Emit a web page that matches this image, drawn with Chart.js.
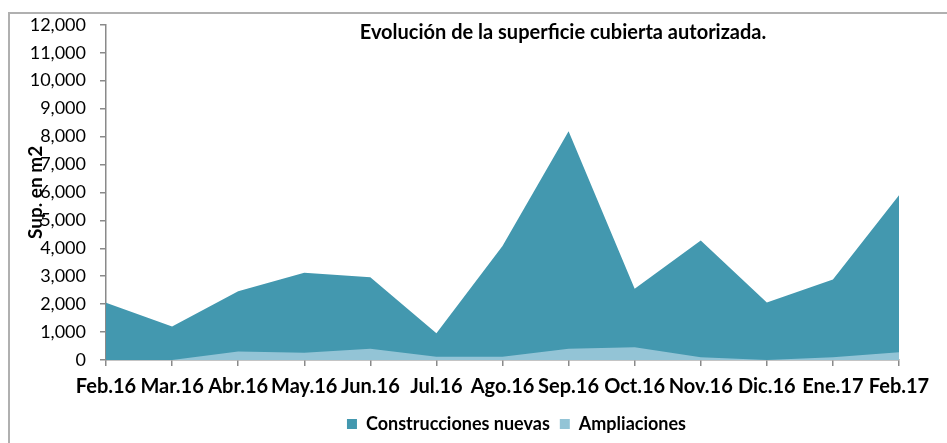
<!DOCTYPE html>
<html lang="es">
<head>
    <meta charset="UTF-8">
    <title>Evolución de la superficie cubierta autorizada</title>
    <script src="https://cdn.jsdelivr.net/npm/chart.js@4.4.8/dist/chart.umd.min.js"></script>
    <style>
        html, body { margin: 0; padding: 0; background: #fff; }
        .wrap { position: relative; width: 947px; height: 443px; }
        .frame {
            position: absolute; left: 8px; top: 12px; right: -4px; bottom: -4px;
            border-left: 2px solid #b0b0b0; border-top: 2px solid #b0b0b0;
        }
        canvas { position: absolute; left: 0; top: 0; }
    </style>
</head>
<body>
    <div class="wrap">
        <div class="frame"></div>
        <canvas id="mainChart" width="947" height="443"></canvas>
    </div>

    <script>
        // datos
        const meses = ['Feb.16', 'Mar.16', 'Abr.16', 'May.16', 'Jun.16', 'Jul.16', 'Ago.16',
                       'Sep.16', 'Oct.16', 'Nov.16', 'Dic.16', 'Ene.17', 'Feb.17'];
        const construccionesNuevas = [2050, 1200, 2460, 3120, 2960, 960, 4080, 8190, 2550, 4280, 2060, 2880, 5900];
        const ampliaciones = [0, 0, 300, 260, 400, 120, 120, 400, 460, 100, 0, 100, 280];
        const tituloGrafico = 'Evolución de la superficie cubierta autorizada.';
        const tituloEjeY = 'Sup. en m2';

        const fuente = "Lato, 'Liberation Sans', sans-serif";

        // titulo dibujado dentro del area (como en el original)
        const tituloPlugin = {
            id: 'tituloPlugin',
            afterLayout(chart) {
                // desplazar la leyenda a la derecha
                chart.legend.left += 55;
                chart.legend.right += 55;
            },
            afterDraw(chart) {
                const c = chart.ctx;
                c.save();
                c.font = 'bold 20px ' + fuente;
                c.fillStyle = '#000';
                c.textAlign = 'center';
                c.textBaseline = 'middle';
                c.fillText(tituloGrafico, 563, 33);
                c.restore();
            }
        };

        const ctx = document.getElementById('mainChart').getContext('2d');
        const mainChart = new Chart(ctx, {
            type: 'line',
            data: {
                labels: meses,
                datasets: [
                    {
                        label: 'Construcciones nuevas',
                        data: construccionesNuevas,
                        backgroundColor: '#4398AF',
                        borderColor: '#4398AF',
                        borderWidth: 0,
                        pointRadius: 0,
                        fill: 'origin',
                        order: 1
                    },
                    {
                        label: 'Ampliaciones',
                        data: ampliaciones,
                        backgroundColor: '#93C4D6',
                        borderColor: '#93C4D6',
                        borderWidth: 0,
                        pointRadius: 0,
                        fill: 'origin',
                        order: 0
                    }
                ]
            },
            options: {
                responsive: false,
                animation: false,
                layout: { padding: { left: 24, right: 48, top: 22, bottom: 0 } },
                scales: {
                    x: {
                        afterFit(scale) { scale.height = 45; },
                        grid: { drawOnChartArea: false, tickLength: 6, color: '#8a8a8a', lineWidth: 1.5 },
                        border: { color: '#8a8a8a', width: 1.5 },
                        ticks: {
                            autoSkip: false, maxRotation: 0, padding: 9, color: '#000',
                            font: { family: fuente, size: 20, weight: 'bold' }
                        }
                    },
                    y: {
                        min: 0, max: 12000,
                        afterFit(scale) { scale.width = 82; },
                        grid: { drawOnChartArea: false, tickLength: 6, color: '#8a8a8a', lineWidth: 1.5 },
                        border: { color: '#8a8a8a', width: 1.5 },
                        ticks: {
                            stepSize: 1000, padding: 14, color: '#000',
                            font: { family: fuente, size: 18 },
                            callback: v => v.toLocaleString('en-US')
                        },
                        title: {
                            display: true, text: tituloEjeY, color: '#000', padding: 0,
                            font: { family: fuente, size: 19, weight: 'bold' }
                        }
                    }
                },
                plugins: {
                    legend: {
                        position: 'bottom',
                        labels: {
                            boxWidth: 10, boxHeight: 10, padding: 10, color: '#000',
                            font: { family: fuente, size: 18, weight: 'bold' },
                            sort: (a, b) => a.datasetIndex - b.datasetIndex
                        }
                    },
                    tooltip: { enabled: false }
                }
            },
            plugins: [tituloPlugin]
        });
    </script>
</body>
</html>
